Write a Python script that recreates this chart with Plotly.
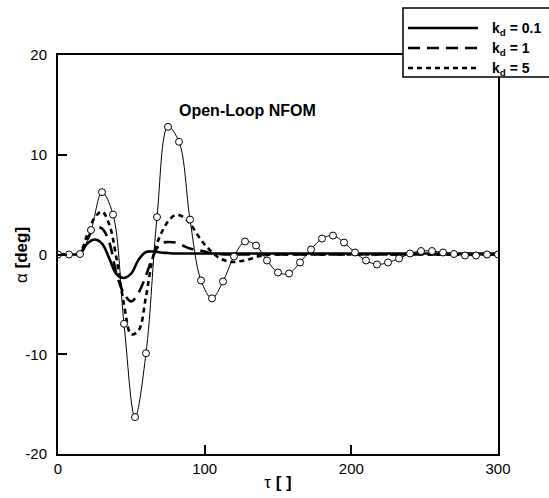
import plotly.graph_objects as go

# Open-loop NFOM response (thin line with open circles)
tau_ol = [0, 7.5, 15, 22.5, 30, 37.5, 45, 52.5, 60, 67.5, 75, 82.5, 90, 97.5, 105, 112.5,
          120, 127.5, 135, 142.5, 150, 157.5, 165, 172.5, 180, 187.5, 195, 202.5, 210,
          217.5, 225, 232.5, 240, 247.5, 255, 262.5, 270, 277.5, 285, 292.5, 300]
alpha_ol = [0, 0, 0.05, 2.45, 6.25, 4.0, -6.95, -16.3, -9.9, 3.75, 12.8, 11.3, 3.5, -2.6, -4.4, -2.7,
            -0.2, 1.3, 0.9, -0.6, -1.8, -1.9, -0.8, 0.5, 1.6, 1.9, 1.2, 0.2, -0.6,
            -1.0, -0.8, -0.4, 0.1, 0.35, 0.35, 0.2, 0.05, -0.1, -0.1, 0, 0]

# Closed-loop responses
tau_kd = [0, 5, 10, 15, 20, 25, 30, 35, 40, 45, 50, 55, 60, 65, 70, 75, 80, 85, 90, 95,
          100, 105, 110, 115, 120, 125, 130, 135, 140, 145, 150, 175, 200, 225, 250, 275, 300]
alpha_kd01 = [0, 0, 0, 0.1, 1.1, 1.5, 1.1, -0.4, -2.0, -2.35, -1.9, -0.5, 0.25, 0.3, 0.2, 0.15, 0.1, 0.1, 0.1, 0.1,
              0.1, 0.1, 0.1, 0.1, 0.1, 0.1, 0.1, 0.1, 0.1, 0.1, 0.1, 0.1, 0.1, 0.1, 0.1, 0.1, 0.1]
alpha_kd1 = [0, 0, 0, 0.1, 1.5, 2.7, 2.6, 1.2, -2.0, -3.9, -4.7, -3.8, -2.1, -0.1, 1.1, 1.25, 1.2, 0.9, 0.6, 0.45,
             0.3, 0.1, 0.05, 0, 0, 0, 0, 0, 0, 0, 0, 0, 0, 0, 0, 0, 0]
alpha_kd5 = [0, 0, 0, 0.2, 2.0, 3.7, 4.3, 3.0, -0.5, -5.0, -8.0, -7.6, -4.2, -0.1, 2.0, 3.3, 3.95, 3.8, 3.1, 2.0,
             1.0, 0.25, -0.35, -0.65, -0.75, -0.65, -0.5, -0.25, -0.1, 0, 0, 0, 0, 0, 0, 0, 0]

legend_labels = ["k<sub>d</sub> = 0.1", "k<sub>d</sub> = 1", "k<sub>d</sub> = 5"]
x_ticks = [0, 100, 200, 300]
y_ticks = [-20, -10, 0, 10, 20]
y_ticktext = ["-20", "-10", "0", "10", "20"]

FONT = "Liberation Sans, Arial, sans-serif"
L, R, T, B = 58, 51, 55, 44
W, H = 549, 498
PW, PH = W - L - R, H - T - B

def px_to_paper(px, py):
    return (px - L) / PW, (H - B - py) / PH

fig = go.Figure()
fig.add_trace(go.Scatter(x=tau_kd, y=alpha_kd01, mode="lines", line=dict(color="black", width=2.6, shape="spline"),
                         name="kd = 0.1", showlegend=False))
fig.add_trace(go.Scatter(x=tau_kd, y=alpha_kd1, mode="lines",
                         line=dict(color="black", width=2.6, shape="spline", dash="12px,7px"),
                         name="kd = 1", showlegend=False))
fig.add_trace(go.Scatter(x=tau_kd, y=alpha_kd5, mode="lines",
                         line=dict(color="black", width=2.6, shape="spline", dash="5px,4px"),
                         name="kd = 5", showlegend=False))
fig.add_trace(go.Scatter(x=tau_ol, y=alpha_ol, mode="lines+markers",
                         line=dict(color="black", width=1, shape="spline"),
                         marker=dict(symbol="circle", size=7, color="white", line=dict(color="black", width=1)),
                         name="Open-Loop NFOM", showlegend=False))

# legend box (drawn)
x0, y1 = px_to_paper(403, 8)
x1, y0 = px_to_paper(560, 77)
shapes = [dict(type="rect", xref="paper", yref="paper", x0=x0, x1=x1, y0=y0, y1=y1,
               line=dict(color="black", width=1.5), fillcolor="white", layer="above")]
annotations = []
dashes = ["solid", "12px,7px", "5px,4px"]
rows = [28, 48, 68]
for lab, dsh, py in zip(legend_labels, dashes, rows):
    lx0, ly = px_to_paper(408, py)
    lx1, _ = px_to_paper(478, py)
    shapes.append(dict(type="line", xref="paper", yref="paper", x0=lx0, x1=lx1, y0=ly, y1=ly,
                       line=dict(color="black", width=2.5, dash=dsh), layer="above"))
    tx, ty = px_to_paper(490, py + 1)
    annotations.append(dict(xref="paper", yref="paper", x=tx, y=ty, text="<b>" + lab + "</b>",
                            xanchor="left", yanchor="middle", showarrow=False,
                            font=dict(family=FONT, size=14, color="black")))

annotations.append(dict(x=129.5, y=14.4, xref="x", yref="y", text="<b>Open-Loop NFOM</b>",
                        showarrow=False, xanchor="center", yanchor="middle",
                        font=dict(family=FONT, size=16, color="black")))

# y-axis title placed precisely
ytx, yty = px_to_paper(21, 255)
annotations.append(dict(xref="paper", yref="paper", x=ytx, y=yty, text="α <b>[deg]</b>", textangle=-90,
                        showarrow=False, xanchor="center", yanchor="middle",
                        font=dict(family=FONT, size=17, color="black")))

fig.update_layout(
    width=W, height=H, margin=dict(l=L, r=R, t=T, b=B, autoexpand=False),
    paper_bgcolor="white", plot_bgcolor="white",
    font=dict(family=FONT, size=15, color="black"),
    shapes=shapes, annotations=annotations, showlegend=False,
)
fig.update_xaxes(range=[0, 300], tickvals=x_ticks, ticks="inside", ticklen=9, tickwidth=2, tickcolor="black",
                 showline=True, linewidth=2, linecolor="black", mirror=True, showgrid=False, zeroline=False,
                 tickfont=dict(family=FONT, size=15), ticklabelstandoff=0, automargin=False,
                 title=dict(text="τ <b>[ ]</b>", font=dict(family=FONT, size=17), standoff=0))
fig.update_yaxes(range=[-20, 20], tickvals=y_ticks, ticktext=y_ticktext, ticks="inside", ticklen=9, tickwidth=2,
                 tickcolor="black", showline=True, linewidth=2, linecolor="black", mirror=True, showgrid=False,
                 zeroline=False, tickfont=dict(family=FONT, size=15), ticklabelstandoff=6, automargin=False)

fig.write_html("out.html")
